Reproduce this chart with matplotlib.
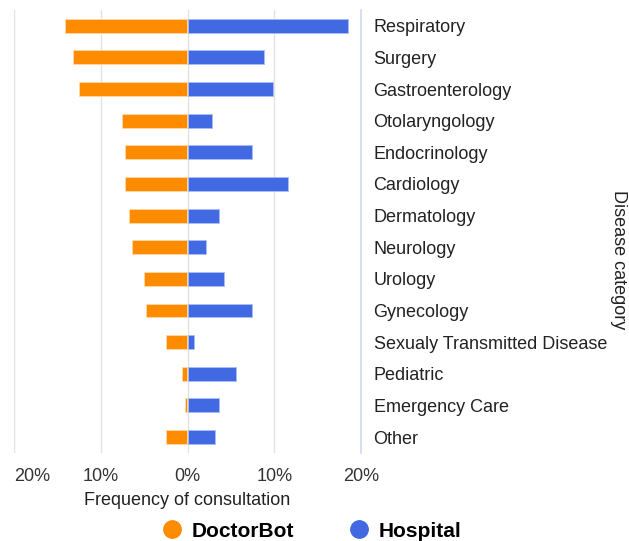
import numpy as np
import matplotlib.pyplot as plt
from matplotlib.lines import Line2D

plt.rcParams['font.family'] = ['Liberation Sans', 'DejaVu Sans']

categories = ['Respiratory', 'Surgery', 'Gastroenterology', 'Otolaryngology',
              'Endocrinology', 'Cardiology', 'Dermatology', 'Neurology',
              'Urology', 'Gynecology', 'Sexualy Transmitted Disease',
              'Pediatric', 'Emergency Care', 'Other']
doctorbot = [14.0, 13.1, 12.4, 7.4, 7.1, 7.1, 6.6, 6.3, 4.9, 4.7, 2.4, 0.5, 0.2, 2.4]
hospital = [18.4, 8.7, 9.7, 2.7, 7.3, 11.5, 3.5, 2.0, 4.1, 7.3, 0.6, 5.5, 3.5, 3.1]
xticks = [-20, -10, 0, 10, 20]
xtick_labels = ['20%', '10%', '0%', '10%', '20%']

orange = '#FF8C00'
blue = '#4169E1'

fig = plt.figure(figsize=(6.29, 5.41), dpi=100)
ax = fig.add_axes([0.0223, 0.163, 0.5517, 0.8185])

y = np.arange(len(categories))
h = 0.44
ax.barh(y, [-v for v in doctorbot], height=h, left=-0.1, color=orange,
        edgecolor='#ffd9a8', linewidth=0.6, zorder=3)
ax.barh(y, hospital, height=h, left=0.1, color=blue,
        edgecolor='#a9bdf5', linewidth=0.6, zorder=3)

ax.set_xlim(-20, 20)
ax.set_ylim(len(categories) - 0.5, -0.5)
ax.set_xticks(xticks)
ax.set_xticklabels(xtick_labels, fontsize=13, color='#333333')
ax.get_xticklabels()[0].set_horizontalalignment('left')
ax.set_yticks(y)
ax.set_yticklabels(categories, fontsize=13, color='#222222')
ax.yaxis.tick_right()
ax.yaxis.set_label_position('right')
ax.tick_params(axis='both', length=0)
ax.tick_params(axis='y', pad=9)
ax.tick_params(axis='x', pad=11)

ax.grid(axis='x', color='#e3e3e3', linewidth=1, zorder=0)
for side in ['top', 'bottom', 'left']:
    ax.spines[side].set_visible(False)
ax.spines['right'].set_color('#d0daf0')
ax.spines['right'].set_linewidth(1.2)

ax.set_xlabel('Frequency of consultation', fontsize=13, color='#222222', labelpad=5)
ax.set_ylabel('Disease category', fontsize=13, color='#222222', rotation=270)
ax.yaxis.set_label_coords(1.765, 0.436)

handles = [
    Line2D([], [], linestyle='none', marker='o', markersize=12.5, color=orange),
    Line2D([], [], linestyle='none', marker='o', markersize=12.5, color=blue),
]
fig.legend(handles, ['DoctorBot', 'Hospital'], loc='center', ncol=2,
           bbox_to_anchor=(0.49, 0.018), frameon=False, handlelength=1.6,
           handletextpad=0.15, columnspacing=2.3,
           prop={'size': 15, 'weight': 'bold'})

fig.savefig('out.png', dpi=100)
